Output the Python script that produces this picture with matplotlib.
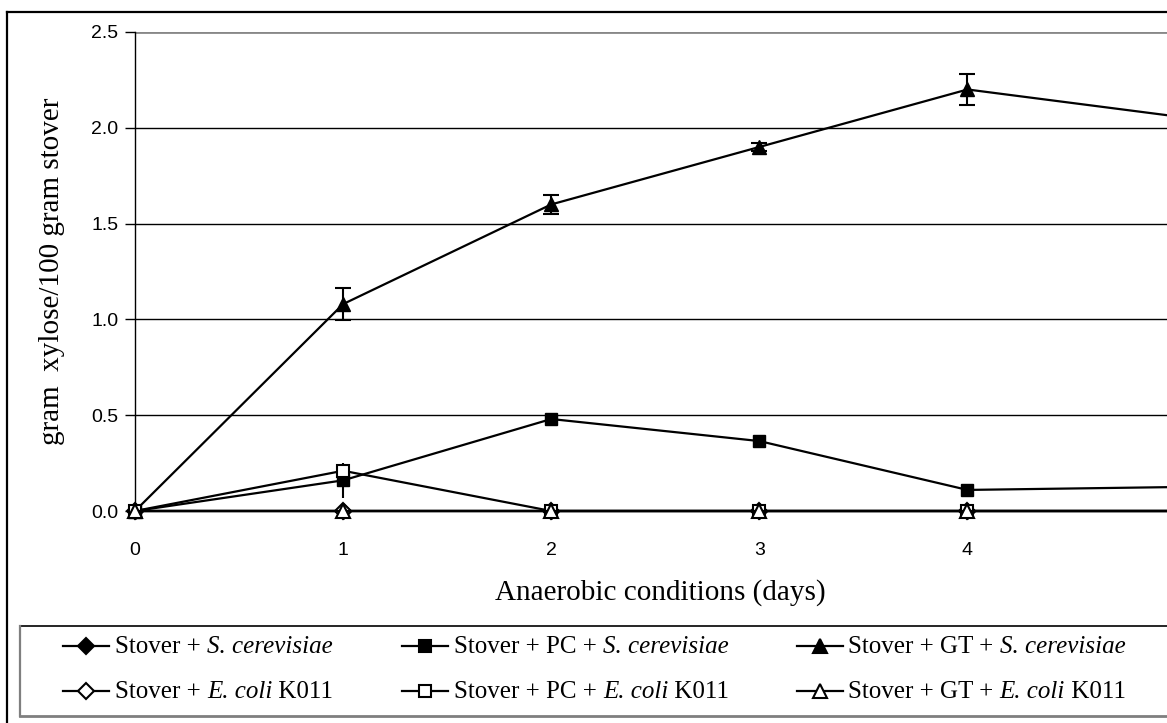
import matplotlib
matplotlib.use("Agg")
import matplotlib.pyplot as plt
from matplotlib.lines import Line2D

W, H = 1167, 723

days = [0, 1, 2, 3, 4, 5]
stover_sc = [0, 0, 0, 0, 0, 0]
stover_pc_sc = [0, 0.16, 0.48, 0.365, 0.11, 0.125]
stover_pc_sc_err = [0, 0.09, 0, 0, 0, 0]
stover_gt_sc = [0, 1.08, 1.60, 1.90, 2.20, 2.06]
stover_gt_sc_err = [0, 0.085, 0.05, 0.02, 0.08, 0]
stover_ec = [0, 0, 0, 0, 0, 0]
stover_pc_ec = [0, 0.21, 0, 0, 0, 0]
stover_gt_ec = [0, 0, 0, 0, 0, 0]

legend_labels = [
    [("Stover + ", "normal"), ("S. cerevisiae", "italic")],
    [("Stover + PC + ", "normal"), ("S. cerevisiae", "italic")],
    [("Stover + GT + ", "normal"), ("S. cerevisiae", "italic")],
    [("Stover + ", "normal"), ("E. coli", "italic"), (" K011", "normal")],
    [("Stover + PC + ", "normal"), ("E. coli", "italic"), (" K011", "normal")],
    [("Stover + GT + ", "normal"), ("E. coli", "italic"), (" K011", "normal")],
]
yticks = [0.0, 0.5, 1.0, 1.5, 2.0, 2.5]

fig = plt.figure(figsize=(W/100, H/100), dpi=100)
ax = fig.add_axes([135/W, 1-511/H, 1051/W, (511-32)/H])

lw = 1.6
styles = [
    dict(marker='D', ms=8, mfc='black'),
    dict(marker='s', ms=8.5, mfc='black'),
    dict(marker='^', ms=10, mfc='black'),
    dict(marker='D', ms=8, mfc='white'),
    dict(marker='s', ms=8.5, mfc='white'),
    dict(marker='^', ms=10, mfc='white'),
]

l = ax.plot(days, stover_sc, color='black', lw=lw, mec='black', zorder=3, **styles[0])
l += ax.plot(days, stover_ec, color='black', lw=lw, mec='black', mew=1.5, zorder=3, **styles[3])
eb1 = ax.errorbar(days, stover_pc_sc, yerr=stover_pc_sc_err, color='black', lw=lw, mec='black',
                  capsize=0, elinewidth=1.5, zorder=4, **styles[1])
l += ax.plot(days, stover_pc_ec, color='black', lw=lw, mec='black', mew=1.5, zorder=5, **styles[4])
eb2 = ax.errorbar(days, stover_gt_sc, yerr=stover_gt_sc_err, color='black', lw=lw, mec='black',
                  capsize=6, capthick=1.5, elinewidth=1.5, zorder=4, **styles[2])
l += ax.plot(days, stover_gt_ec, color='black', lw=lw, mec='black', mew=1.5, zorder=6, **styles[5])
for art in l + list(eb1.lines[:1]) + list(eb2.lines[:1]):
    if art is not None:
        art.set_clip_on(False)

ax.set_xlim(0, 5.05)
ax.set_ylim(0, 2.5)
ax.set_yticks(yticks)
ax.set_yticklabels([f"{v:.1f}" for v in yticks], fontfamily='Liberation Sans', fontsize=14)
ax.set_xticks(days)
ax.set_xticklabels([str(d) for d in days], fontfamily='Liberation Sans', fontsize=14)
ax.tick_params(axis='y', direction='out', length=7, width=1, pad=5)
ax.tick_params(axis='x', length=0, pad=22)
for v in yticks[1:-1]:
    ax.axhline(v, color='black', lw=1.0, zorder=1)
ax.axhline(2.5, color='#888888', lw=2.0, zorder=1)
for s in ['top', 'right']:
    ax.spines[s].set_visible(False)
ax.spines['left'].set_linewidth(1.0)
ax.spines['bottom'].set_linewidth(1.6)

ax.set_xlabel("Anaerobic conditions (days)", fontfamily='Liberation Serif', fontsize=21, labelpad=15)
ax.set_ylabel("gram  xylose/100 gram stover", fontfamily='Liberation Serif', fontsize=21, labelpad=19)

# legend box (manually drawn)
fs = 18
def fx(px):
    return px / W
def fy(py):
    return 1 - py / H
fig.add_artist(Line2D([fx(20), 1.0], [fy(626), fy(626)], color='black', lw=1.2, transform=fig.transFigure))
fig.add_artist(Line2D([fx(20), fx(20)], [fy(626), fy(716)], color='#7f7f7f', lw=1.6, transform=fig.transFigure))
fig.add_artist(Line2D([fx(20), 1.0], [fy(716), fy(716)], color='#7f7f7f', lw=2.0, transform=fig.transFigure))

renderer = fig.canvas.get_renderer()
def piece_width(txt, style):
    t1 = fig.text(0, 0, txt + "|", fontfamily='Liberation Serif', fontstyle=style, fontsize=fs)
    t2 = fig.text(0, 0, "|", fontfamily='Liberation Serif', fontstyle=style, fontsize=fs)
    w = t1.get_window_extent(renderer).width - t2.get_window_extent(renderer).width
    t1.remove(); t2.remove()
    return w

col_handle = [63, 402, 797]
col_text = [115, 454, 848]
row_y = [646, 691]
for i, pieces in enumerate(legend_labels):
    col = i % 3
    row = i // 3
    yc = row_y[row]
    x0 = col_handle[col]
    fig.add_artist(Line2D([fx(x0), fx(x0 + 46)], [fy(yc), fy(yc)], color='black', lw=lw,
                          transform=fig.transFigure))
    fig.add_artist(Line2D([fx(x0 + 23)], [fy(yc)], color='black', lw=0, mec='black', mew=1.5,
                          transform=fig.transFigure, **styles[i]))
    x = col_text[col]
    for txt, style in pieces:
        fig.text(fx(x), fy(yc + 7), txt, fontfamily='Liberation Serif', fontstyle=style,
                 fontsize=fs, ha='left', va='baseline')
        x += piece_width(txt, style)

# outer chart border (left and top visible)
fig.add_artist(Line2D([fx(7), fx(7)], [0, fy(12)], color='black', lw=1.6, transform=fig.transFigure))
fig.add_artist(Line2D([fx(7), 1.0], [fy(12), fy(12)], color='black', lw=1.6, transform=fig.transFigure))

fig.savefig("out.png", dpi=100)
